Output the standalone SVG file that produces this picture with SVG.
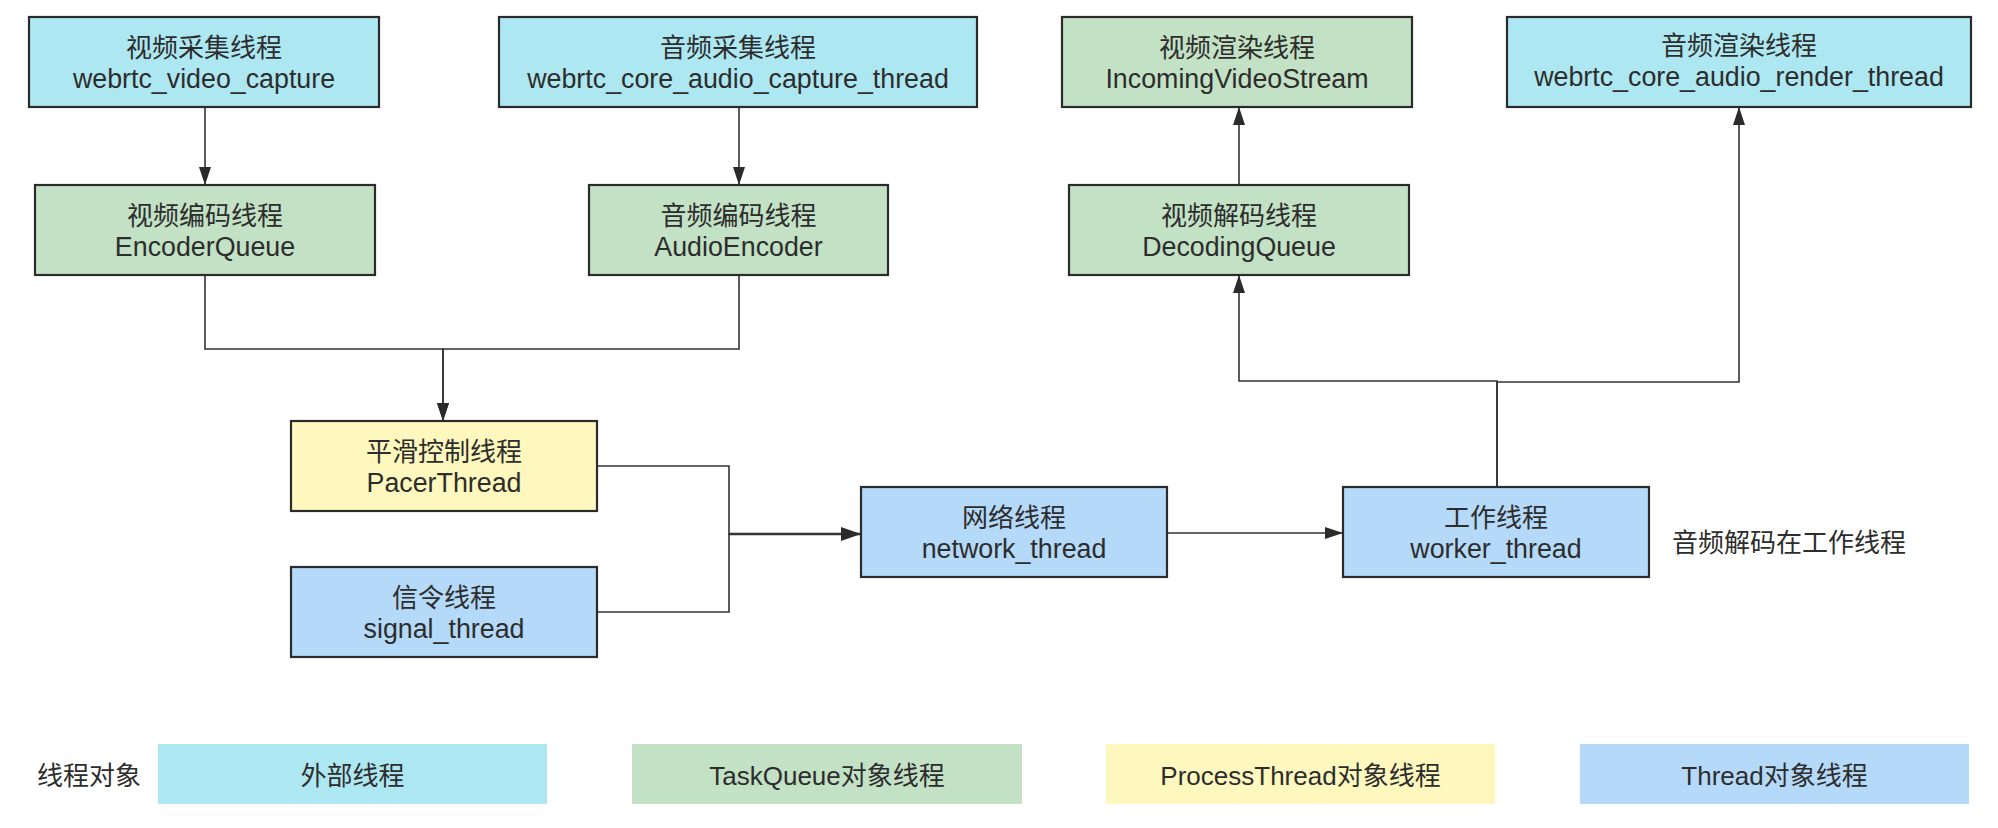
<svg xmlns="http://www.w3.org/2000/svg" width="1998" height="828" viewBox="0 0 1998 828">
<style>
text{font-family:"Liberation Sans","Noto Sans CJK SC",sans-serif;font-size:26px;fill:#2d2d2d;text-anchor:middle}
.box{stroke:#2b2b2b;stroke-width:2.2}
.cy{fill:#ade8f2}
.gr{fill:#c3e1c5}
.ye{fill:#fef8be}
.bl{fill:#b4d9f9}
.lat{font-size:26.8px}
.c{fill:none;stroke:#333;stroke-width:1.6}
.thick{stroke-width:2.6}
</style>
<defs>
<marker id="ah" markerUnits="userSpaceOnUse" markerWidth="18" markerHeight="12" refX="18" refY="6" orient="auto"><path d="M0,0 L18,6 L0,12 z" fill="#2b2b2b"/></marker>
<marker id="ahb" markerUnits="userSpaceOnUse" markerWidth="20" markerHeight="14" refX="20" refY="7" orient="auto"><path d="M0,0 L20,7 L0,14 z" fill="#2b2b2b"/></marker>
</defs>
<rect width="1998" height="828" fill="#fff"/>
<g id="connectors">
<path class="c" d="M205,107 V185" marker-end="url(#ah)"/>
<path class="c" d="M739,107 V185" marker-end="url(#ah)"/>
<path class="c" d="M205,275 V349 H443 V421" marker-end="url(#ah)"/>
<path class="c" d="M739,275 V349 H443 V421" marker-end="url(#ah)"/>
<path class="c" d="M597,466 H729 V534 H861"/>
<path class="c" d="M597,612 H729 V534 H861"/>
<path class="c thick" d="M729,534 H861" marker-end="url(#ahb)"/>
<path class="c" d="M1167,533 H1343" marker-end="url(#ah)"/>
<path class="c" d="M1497,487 V381 H1239 V275" marker-end="url(#ah)"/>
<path class="c" d="M1497,487 V382 H1739 V107" marker-end="url(#ah)"/>
<path class="c" d="M1239,185 V107" marker-end="url(#ah)"/>
</g>
<g id="video_capture"><rect class="box cy" x="29" y="17" width="350" height="90"/><text x="204" y="57">视频采集线程</text><text class="lat" x="204" y="88">webrtc_video_capture</text></g>
<g id="audio_capture"><rect class="box cy" x="499" y="17" width="478" height="90"/><text x="738" y="57">音频采集线程</text><text class="lat" x="738" y="88">webrtc_core_audio_capture_thread</text></g>
<g id="video_render"><rect class="box gr" x="1062" y="17" width="350" height="90"/><text x="1237" y="57">视频渲染线程</text><text class="lat" x="1237" y="88">IncomingVideoStream</text></g>
<g id="audio_render"><rect class="box cy" x="1507" y="17" width="464" height="90"/><text x="1739" y="55">音频渲染线程</text><text class="lat" x="1739" y="86">webrtc_core_audio_render_thread</text></g>
<g id="video_encoder"><rect class="box gr" x="35" y="185" width="340" height="90"/><text x="205" y="225">视频编码线程</text><text class="lat" x="205" y="256">EncoderQueue</text></g>
<g id="audio_encoder"><rect class="box gr" x="589" y="185" width="299" height="90"/><text x="738.5" y="225">音频编码线程</text><text class="lat" x="738.5" y="256">AudioEncoder</text></g>
<g id="video_decoder"><rect class="box gr" x="1069" y="185" width="340" height="90"/><text x="1239" y="225">视频解码线程</text><text class="lat" x="1239" y="256">DecodingQueue</text></g>
<g id="pacer"><rect class="box ye" x="291" y="421" width="306" height="90"/><text x="444" y="461">平滑控制线程</text><text class="lat" x="444" y="492">PacerThread</text></g>
<g id="signal"><rect class="box bl" x="291" y="567" width="306" height="90"/><text x="444" y="607">信令线程</text><text class="lat" x="444" y="638">signal_thread</text></g>
<g id="network"><rect class="box bl" x="861" y="487" width="306" height="90"/><text x="1014" y="527">网络线程</text><text class="lat" x="1014" y="558">network_thread</text></g>
<g id="worker"><rect class="box bl" x="1343" y="487" width="306" height="90"/><text x="1496" y="527">工作线程</text><text class="lat" x="1496" y="558">worker_thread</text></g>
<g id="note"><text x="1672" y="552" style="text-anchor:start">音频解码在工作线程</text></g>
<g id="legend">
<text x="37" y="785" style="text-anchor:start">线程对象</text>
<rect class="cy" x="158" y="744" width="389" height="60"/><text x="352.5" y="785">外部线程</text>
<rect class="gr" x="632" y="744" width="390" height="60"/><text x="827" y="785">TaskQueue对象线程</text>
<rect class="ye" x="1106" y="744" width="389" height="60"/><text x="1300.5" y="785">ProcessThread对象线程</text>
<rect class="bl" x="1580" y="744" width="389" height="60"/><text x="1774.5" y="785">Thread对象线程</text>
</g>
</svg>
